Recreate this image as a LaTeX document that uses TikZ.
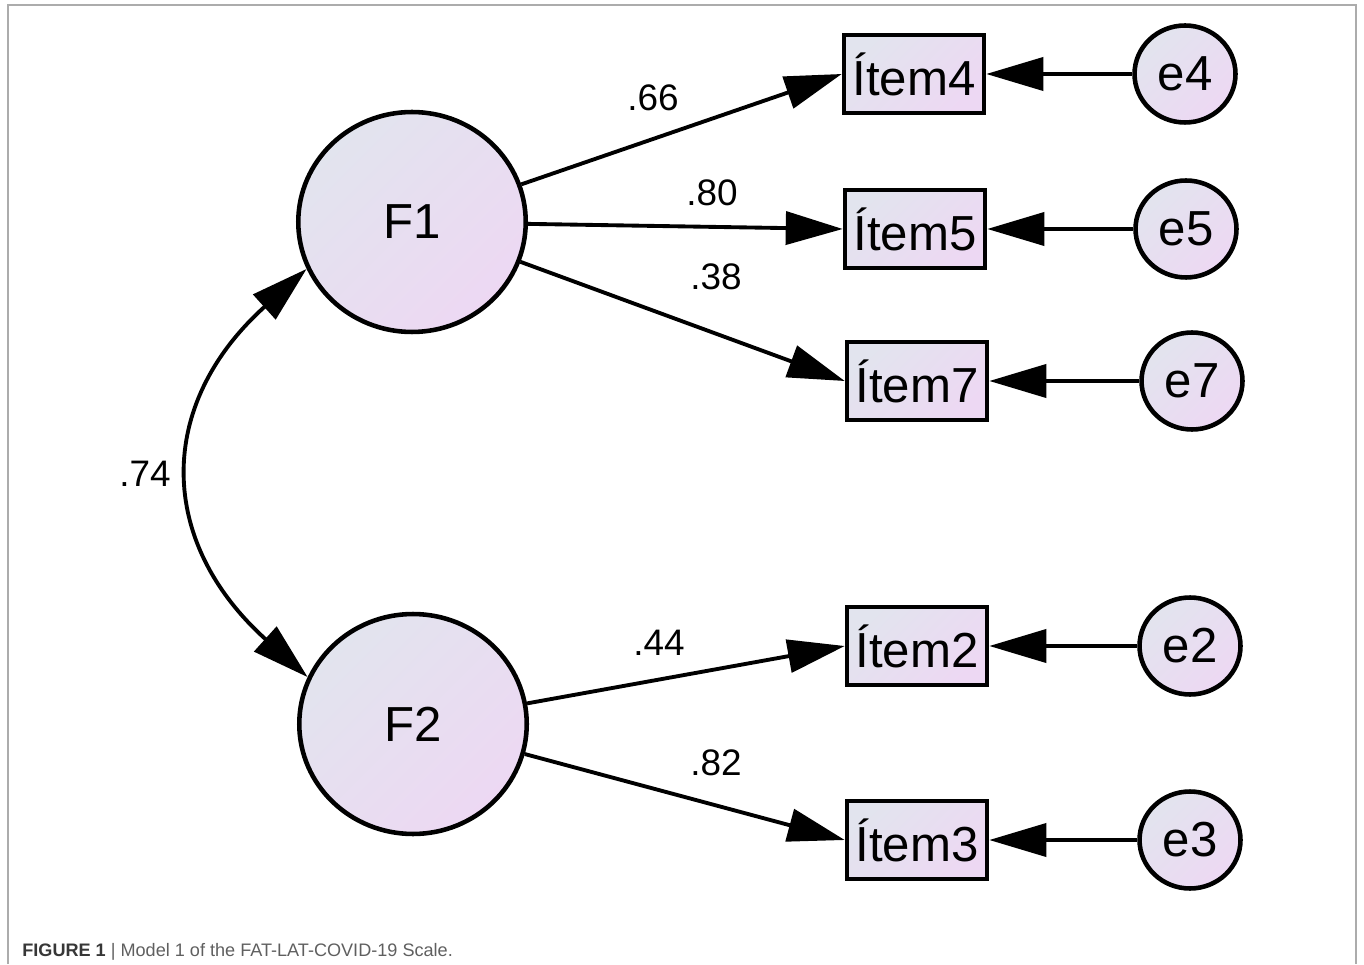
\documentclass[tikz,border=0pt]{standalone}
\usepackage{fontspec}
\setmainfont{Liberation Sans}
\usetikzlibrary{arrows.meta,shapes.geometric}
\definecolor{shadeA}{RGB}{226,228,238}
\definecolor{shadeB}{RGB}{237,216,243}
\definecolor{framegray}{RGB}{172,172,172}
\definecolor{capdark}{RGB}{55,55,55}
\definecolor{capgray}{RGB}{95,95,95}
\begin{document}
\begin{tikzpicture}[x=0.02cm, y=0.02cm,
  lat/.style={ellipse, draw, line width=2.6pt, minimum width=4.55cm, minimum height=4.4cm, inner sep=0pt, top color=shadeA, bottom color=shadeB, shading angle=45, font=\fontsize{28}{30}\selectfont},
  itm/.style={rectangle, draw, line width=2.6pt, minimum width=2.8cm, minimum height=1.56cm, inner sep=0pt, top color=shadeA, bottom color=shadeB, shading angle=45, font=\fontsize{28}{30}\selectfont},
  err/.style={ellipse, draw, line width=2.6pt, minimum width=2.02cm, minimum height=1.94cm, inner sep=0pt, top color=shadeA, bottom color=shadeB, shading angle=45, font=\fontsize{28}{30}\selectfont},
  lbl/.style={inner sep=0pt, font=\fontsize{21}{23}\selectfont},
  pth/.style={line width=2.2pt, -{Triangle[length=1.14cm, width=0.66cm]}},
  cov/.style={line width=2.2pt, {Triangle[length=1.14cm, width=0.66cm]}-{Triangle[length=1.14cm, width=0.66cm]}}]
\useasboundingbox (0,0) rectangle (1364,964);
\draw[framegray, line width=1.1pt] (8,0) -- (8,959) -- (1356,959) -- (1356,0);
\node[lat] (f1) at (412,742){F1};
\node[lat] (f2) at (413,240){F2};
\node[itm] (it4) at (914,890){Ítem4};
\node[itm] (it5) at (915,735){Ítem5};
\node[itm] (it7) at (917,583){Ítem7};
\node[itm] (it2) at (917,318){Ítem2};
\node[itm] (it3) at (917,124){Ítem3};
\node[err] (e4) at (1185,890){e4};
\node[err] (e5) at (1186,735){e5};
\node[err] (e7) at (1192,583){e7};
\node[err] (e2) at (1190,318){e2};
\node[err] (e3) at (1190,124){e3};
\draw[pth](f1) -- (it4.west);
\draw[pth](f1) -- (it5.west);
\draw[pth](f1) -- (it7.west);
\draw[pth](f2) -- (it2.west);
\draw[pth](f2) -- (it3.west);
\draw[pth](e4) -- (it4);
\draw[pth](e5) -- (it5);
\draw[pth](e7) -- (it7);
\draw[pth](e2) -- (it2);
\draw[pth](e3) -- (it3);
\draw[cov](f1.204) to[out=222, in=138, looseness=1.27] (f2.156);
\node[lbl] (l66) at (653,866){.66};
\node[lbl] (l80) at (712,771){.80};
\node[lbl] (l38) at (716,687){.38};
\node[lbl] (l74) at (145,490){.74};
\node[lbl] (l44) at (659,321){.44};
\node[lbl] (l82) at (716,201){.82};
\node[anchor=base west, inner sep=0pt, font=\fontsize{10.3}{12}\selectfont, text=capgray] (cap) at (22,8){\textbf{\color{capdark}FIGURE 1} | Model 1 of the FAT-LAT-COVID-19 Scale.};
\end{tikzpicture}
\end{document}
